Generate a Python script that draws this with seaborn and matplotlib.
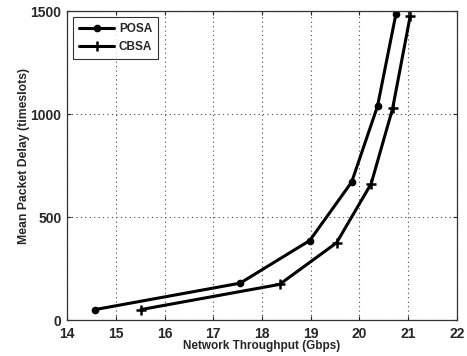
import matplotlib
matplotlib.use("Agg")
import matplotlib.pyplot as plt
import seaborn as sns

# Values
posa_x = [14.58, 17.55, 18.98, 19.84, 20.37, 20.75]
posa_y = [51, 179, 386, 670, 1038, 1488]
cbsa_x = [15.52, 18.36, 19.53, 20.24, 20.68, 21.04]
cbsa_y = [51, 173, 375, 662, 1027, 1475]

x_ticks = [14, 15, 16, 17, 18, 19, 20, 21, 22]
y_ticks = [0, 500, 1000, 1500]

sns.set_style("ticks")
plt.rcParams["font.family"] = ["Liberation Sans", "DejaVu Sans"]
plt.rcParams["font.weight"] = "bold"

fig = plt.figure(figsize=(4.67, 3.56), dpi=100)
ax = fig.add_axes([0.1435, 0.101, 0.835, 0.868])

# one call per series: seaborn won't mix filled and line-art markers
sns.lineplot(x=posa_x, y=posa_y, color="black", marker="o", sort=False,
             linewidth=2.2, markersize=4.5, markeredgewidth=1,
             markeredgecolor="black", label="POSA", ax=ax)
sns.lineplot(x=cbsa_x, y=cbsa_y, color="black", marker="+", sort=False,
             linewidth=2.2, markersize=6.5, markeredgewidth=1.8,
             markeredgecolor="black", label="CBSA", ax=ax)

ax.set_xlim(14, 22)
ax.set_ylim(0, 1500)
ax.set_xticks(x_ticks)
ax.set_yticks(y_ticks)
ax.grid(True, linestyle=(0, (1, 3)), color="#444444", linewidth=0.8)
ax.tick_params(direction="in", length=3, labelsize=10, top=True, right=True)
ax.tick_params(axis="x", pad=5)
ax.tick_params(axis="y", pad=4)
for lab in ax.get_xticklabels() + ax.get_yticklabels():
    lab.set_fontweight("bold")
for sp in ax.spines.values():
    sp.set_linewidth(0.9)
    sp.set_color("#333333")

ax.set_xlabel("Network Throughput (Gbps)", fontsize=8.5, fontweight="bold",
              labelpad=-1)
ax.set_ylabel("Mean Packet Delay (timeslots)", fontsize=8.8, fontweight="bold")
ax.yaxis.set_label_coords(-0.095, 0.532)

leg = ax.legend(loc="upper left", fontsize=8.5, frameon=True, fancybox=False,
                handlelength=3, borderpad=0.5, labelspacing=0.5,
                handletextpad=0.4, borderaxespad=0.5)
leg.get_frame().set_edgecolor("black")
leg.get_frame().set_linewidth(0.8)
for t in leg.get_texts():
    t.set_fontweight("bold")

fig.savefig("out.png", dpi=100)
